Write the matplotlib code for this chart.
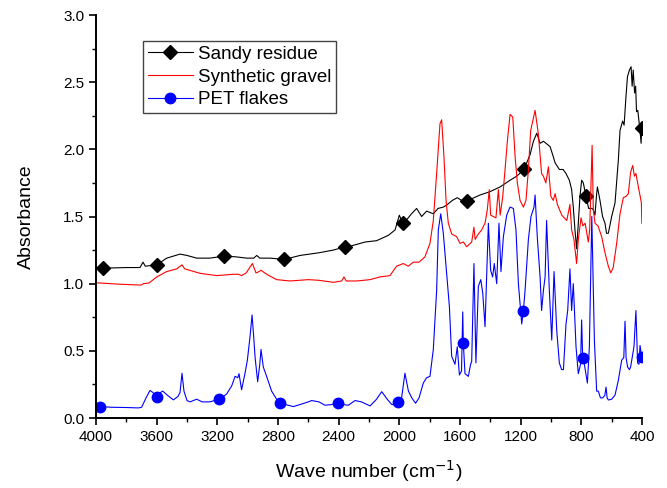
import matplotlib
matplotlib.use("Agg")
import matplotlib.pyplot as plt
from matplotlib.ticker import MultipleLocator

plt.rcParams['font.family'] = ['Liberation Sans', 'DejaVu Sans']

# ---------------- data ----------------
sandy_wn = [4000, 3956, 3800, 3710, 3690, 3675, 3600, 3534, 3446, 3400, 3336, 3250, 3156, 3080,
            3006, 2960, 2940, 2920, 2850, 2760, 2655, 2530, 2435, 2356, 2320, 2226, 2150, 2072,
            2028, 2000, 1985, 1974, 1941, 1920, 1886, 1853, 1820, 1776, 1745, 1710, 1688, 1650,
            1618, 1590, 1556, 1468, 1402, 1336, 1270, 1226, 1178, 1138, 1116, 1094, 1072, 1050,
            1033, 1006, 989, 973, 945, 920, 901, 879, 864, 853, 842, 831, 820, 809, 798, 787,
            769, 752, 730, 721, 710, 699, 694, 677, 660, 644, 634, 622, 600, 578, 556, 545,
            528, 518, 507, 496, 483, 472, 465, 458, 449, 442, 436, 428, 413, 406, 402]
sandy_ab = [1.12, 1.115, 1.12, 1.12, 1.16, 1.13, 1.14, 1.19, 1.22, 1.21, 1.19, 1.19, 1.205, 1.20,
            1.19, 1.19, 1.21, 1.19, 1.19, 1.18, 1.21, 1.23, 1.25, 1.275, 1.28, 1.31, 1.32, 1.36,
            1.40, 1.51, 1.47, 1.45, 1.49, 1.52, 1.56, 1.50, 1.54, 1.52, 1.56, 1.57, 1.585, 1.62,
            1.64, 1.62, 1.615, 1.66, 1.685, 1.72, 1.77, 1.80, 1.85, 1.96, 2.06, 2.12, 2.045, 2.06,
            2.045, 2.02, 1.96, 1.90, 1.85, 1.85, 1.82, 1.77, 1.70, 1.57, 1.40, 1.26, 1.45, 1.65, 1.77, 1.75,
            1.65, 1.56, 1.56, 1.55, 1.51, 1.67, 1.72, 1.62, 1.50, 1.45, 1.375, 1.375, 1.50, 1.60, 1.92, 2.14,
            2.21, 2.18, 2.37, 2.54, 2.59, 2.615, 2.47, 2.59, 2.42, 2.47, 2.28, 2.29, 2.14, 2.045, 2.157]
sandy_marks = [3956, 3600, 3156, 2760, 2356, 1974, 1556, 1178, 769, 402]

gravel_wn = [4000, 3864, 3721, 3700, 3688, 3650, 3600, 3534, 3468, 3433, 3415, 3314, 3204, 3095,
             3060, 3040, 3010, 2969, 2945, 2925, 2912, 2875, 2809, 2721, 2600, 2530, 2435, 2380,
             2365, 2350, 2280, 2194, 2128, 2062, 2018, 1974, 1941, 1908, 1870, 1831, 1798, 1776,
             1754, 1732, 1721, 1706, 1692, 1677, 1655, 1622, 1600, 1578, 1556, 1523, 1508, 1500,
             1479, 1457, 1435, 1420, 1407, 1398, 1363, 1347, 1335, 1318, 1303, 1287, 1270, 1252,
             1237, 1222, 1204, 1182, 1165, 1149, 1134, 1105, 1084, 1062, 1050, 1034, 1017, 1001,
             985, 973, 958, 929, 896, 875, 864, 849, 831, 820, 802, 790, 775, 754, 745, 729,
             721, 710, 690, 666, 644, 622, 606, 590, 567, 545, 523, 505, 490, 475, 461, 450,
             440, 424, 412, 404, 401]
gravel_ab = [1.007, 0.997, 0.99, 0.99, 1.0, 1.005, 1.05, 1.09, 1.11, 1.14, 1.11, 1.077, 1.06, 1.07,
             1.07, 1.06, 1.08, 1.15, 1.08, 1.09, 1.10, 1.07, 1.03, 1.02, 1.03, 1.025, 1.01, 1.02,
             1.05, 1.02, 1.02, 1.03, 1.05, 1.06, 1.13, 1.15, 1.13, 1.16, 1.16, 1.20, 1.30, 1.47,
             1.82, 2.19, 2.22, 1.95, 1.62, 1.45, 1.37, 1.35, 1.30, 1.31, 1.275, 1.31, 1.42, 1.33,
             1.37, 1.40, 1.45, 1.55, 1.70, 1.51, 1.49, 1.70, 1.51, 1.65, 1.85, 2.07, 2.26, 2.24,
             1.95, 1.75, 1.62, 1.57, 1.62, 1.85, 2.14, 2.29, 2.12, 1.82, 1.80, 1.75, 1.87, 1.65,
             1.62, 1.67, 1.59, 1.51, 1.47, 1.59, 1.40, 1.33, 1.15, 1.33, 1.49, 1.43, 1.45, 1.31, 1.40, 2.03,
             1.55, 1.45, 1.43, 1.35, 1.23, 1.13, 1.08, 1.12, 1.30, 1.52, 1.64, 1.65, 1.67, 1.83, 1.88, 1.80,
             1.82, 1.72, 1.65, 1.60, 1.45]

pet_wn = [4000, 3974, 3900, 3800, 3720, 3699, 3670, 3644, 3625, 3611, 3596, 3575, 3560, 3530,
          3490, 3460, 3446, 3433, 3420, 3400, 3380, 3336, 3300, 3250, 3187, 3160, 3138, 3105,
          3083, 3065, 3057, 3040, 3018, 3002, 2985, 2971, 2960, 2951, 2934, 2920, 2912, 2897,
          2875, 2842, 2809, 2787, 2750, 2699, 2655, 2600, 2578, 2530, 2490, 2446, 2402, 2370,
          2336, 2292, 2250, 2193, 2150, 2116, 2080, 2050, 2020, 2007, 1985, 1963, 1940, 1918,
          1893, 1870, 1842, 1820, 1798, 1776, 1754, 1743, 1727, 1710, 1688, 1670, 1655, 1633,
          1618, 1604, 1590, 1582, 1578, 1567, 1545, 1530, 1523, 1508, 1495, 1479, 1463, 1450,
          1435, 1413, 1398, 1385, 1374, 1358, 1343, 1330, 1314, 1292, 1270, 1248, 1231, 1215,
          1193, 1182, 1171, 1149, 1132, 1112, 1105, 1090, 1072, 1062, 1050, 1039, 1029, 1011,
          995, 980, 962, 945, 930, 918, 901, 890, 875, 864, 853, 835, 820, 805, 798, 791,
          780, 760, 747, 731, 714, 699, 688, 680, 674, 660, 651, 645, 637, 630, 622, 600,
          578, 556, 534, 520, 512, 505, 495, 483, 475, 453, 440, 429, 420, 413, 402]
pet_ab = [0.085, 0.085, 0.08, 0.078, 0.075, 0.08, 0.15, 0.205, 0.19, 0.17, 0.16, 0.19, 0.20, 0.17,
          0.135, 0.16, 0.19, 0.333, 0.20, 0.13, 0.12, 0.14, 0.12, 0.12, 0.14, 0.16, 0.18, 0.24,
          0.31, 0.30, 0.33, 0.21, 0.33, 0.43, 0.60, 0.767, 0.60, 0.45, 0.27, 0.40, 0.51, 0.38,
          0.31, 0.20, 0.14, 0.11, 0.10, 0.085, 0.10, 0.12, 0.13, 0.12, 0.095, 0.10, 0.115, 0.10,
          0.095, 0.13, 0.12, 0.09, 0.14, 0.196, 0.14, 0.10, 0.10, 0.12, 0.15, 0.333, 0.20, 0.15,
          0.11, 0.15, 0.26, 0.30, 0.31, 0.51, 0.95, 1.40, 1.52, 1.375, 1.08, 0.83, 0.46, 0.40,
          0.53, 0.32, 0.35, 0.79, 0.556, 0.33, 0.31, 0.40, 0.42, 1.15, 0.41, 0.98, 1.03, 0.93,
          0.68, 1.45, 1.10, 1.05, 1.15, 1.00, 1.45, 1.09, 1.35, 1.51, 1.57, 1.56, 1.40, 1.00,
          0.70, 0.80, 0.95, 1.33, 1.50, 1.57, 1.66, 1.34, 1.05, 0.80, 0.95, 1.05, 1.47, 0.95,
          0.58, 1.09, 0.65, 0.41, 0.36, 0.36, 0.70, 0.80, 1.11, 0.80, 1.00, 0.53, 0.33, 0.40, 0.73, 0.444,
          0.40, 0.26, 0.53, 1.50, 0.58, 0.20, 0.20, 0.17, 0.15, 0.15, 0.16, 0.17, 0.23, 0.15, 0.134, 0.14,
          0.17, 0.28, 0.43, 0.45, 0.72, 0.45, 0.38, 0.36, 0.38, 0.53, 0.80, 0.41, 0.40, 0.54, 0.456]
pet_marks = [3974, 3596, 3187, 2787, 2402, 2007, 1578, 1182, 791, 402]

x_ticks = [4000, 3600, 3200, 2800, 2400, 2000, 1600, 1200, 800, 400]
y_ticks = [0.0, 0.5, 1.0, 1.5, 2.0, 2.5, 3.0]

# ---------------- plot ----------------
fig = plt.figure(figsize=(6.67, 4.88), dpi=100)
ax = fig.add_axes([96/667, 70/488, 546/667, 403/488])

ax.plot(sandy_wn, sandy_ab, color='black', lw=0.8, marker='D', ms=7,
        markevery=[sandy_wn.index(m) for m in sandy_marks], label='Sandy residue')
ax.plot(gravel_wn, gravel_ab, color='#ff0000', lw=0.8, label='Synthetic gravel')
ax.plot(pet_wn, pet_ab, color='#0000ff', lw=0.8, marker='o', ms=7.5,
        markevery=[pet_wn.index(m) for m in pet_marks], label='PET flakes')

ax.set_xlim(4000, 400)
ax.set_ylim(0, 3.0)
ax.set_xticks(x_ticks)
ax.set_xticklabels([str(t) for t in x_ticks])
ax.set_yticks(y_ticks)
ax.set_yticklabels([f"{t:.1f}" for t in y_ticks])
ax.xaxis.set_minor_locator(MultipleLocator(200))
ax.yaxis.set_minor_locator(MultipleLocator(0.25))

for s in ['top', 'right']:
    ax.spines[s].set_visible(False)
for s in ['left', 'bottom']:
    ax.spines[s].set_linewidth(1.4)
ax.tick_params(which='major', direction='out', length=5, width=1.2, labelsize=11)
ax.tick_params(which='minor', direction='out', length=3, width=1.0)

ax.set_xlabel('Wave number (cm$^{-1}$)', fontsize=14, labelpad=10)
ax.set_ylabel('Absorbance', fontsize=14, labelpad=20)

leg = ax.legend(loc='upper left', bbox_to_anchor=(47/546, 377/403), borderaxespad=0,
                fontsize=13.5, frameon=True, fancybox=False, framealpha=1,
                edgecolor='#444444', handlelength=2.4, handletextpad=0.3,
                labelspacing=0.3, borderpad=0.25)
leg.get_frame().set_linewidth(1.0)

fig.savefig('out.png', dpi=100)
